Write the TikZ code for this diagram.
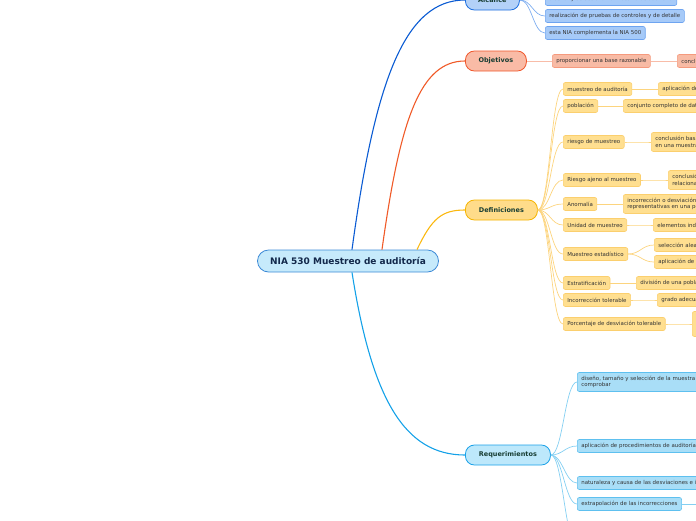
\documentclass[tikz,border=0pt]{standalone}
\usepackage{fontspec}
\setmainfont{DejaVu Sans}
\definecolor{ctext}{HTML}{13294B}
\definecolor{btext}{HTML}{173D33}
\definecolor{ltext}{HTML}{333333}
\definecolor{cfill}{HTML}{C6EAFB}
\definecolor{cdraw}{HTML}{3D8AD6}
\definecolor{aline}{HTML}{0A5BD3}
\definecolor{afill}{HTML}{B3D1F8}
\definecolor{adraw}{HTML}{1D6FE0}
\definecolor{alfill}{HTML}{A6CAF8}
\definecolor{aldraw}{HTML}{6EA4F0}
\definecolor{alline}{HTML}{7FAEF0}
\definecolor{oline}{HTML}{F05A28}
\definecolor{ofill}{HTML}{F9BBA6}
\definecolor{odraw}{HTML}{F0562B}
\definecolor{olfill}{HTML}{F8BBA5}
\definecolor{oldraw}{HTML}{F59A7E}
\definecolor{olline}{HTML}{F8BCA8}
\definecolor{dline}{HTML}{FBB80F}
\definecolor{dfill}{HTML}{FFDC8A}
\definecolor{ddraw}{HTML}{F5B400}
\definecolor{dlfill}{HTML}{FFDF90}
\definecolor{dldraw}{HTML}{FBCF6E}
\definecolor{dlline}{HTML}{FCD47E}
\definecolor{rline}{HTML}{14A1E8}
\definecolor{rfill}{HTML}{BDE8FB}
\definecolor{rdraw}{HTML}{1AA1E8}
\definecolor{rlfill}{HTML}{A9DEF7}
\definecolor{rldraw}{HTML}{5EC0EF}
\definecolor{rlline}{HTML}{84CFF2}
\tikzset{
  central/.style={draw=cdraw, fill=cfill, line width=0.8pt, rounded corners=11pt,
    minimum width=181pt, minimum height=22pt, inner sep=0pt, text=ctext,
    font=\fontsize{9}{10}\selectfont\bfseries},
  branch/.style={line width=0.8pt, rounded corners=9pt, minimum height=20pt,
    inner sep=0pt, anchor=west, text=btext, font=\fontsize{6.5}{7.5}\selectfont\bfseries},
  leaf/.style={line width=0.6pt, rounded corners=2pt, minimum height=13pt,
    inner xsep=4pt, inner ysep=0pt, anchor=west, align=left, text=ltext,
    font=\fontsize{5.45}{6.4}\selectfont},
  aleaf/.style={leaf, draw=aldraw, fill=alfill},
  oleaf/.style={leaf, draw=oldraw, fill=olfill},
  dleaf/.style={leaf, draw=dldraw, fill=dlfill},
  rleaf/.style={leaf, draw=rldraw, fill=rlfill},
  main/.style={line width=1.1pt},
  sub/.style={line width=0.7pt},
}
\begin{document}
\begin{tikzpicture}[x=1pt, y=-1pt]
\useasboundingbox (0,0) rectangle (696,520);
\clip (0,0) rectangle (696,520);

% central
\node[central] (c) at (348,261) {NIA 530 Muestreo de auditoría};

% branches
\node[branch, draw=adraw, fill=afill, minimum width=54pt] (alc) at (465,0) {Alcance};
\node[branch, draw=odraw, fill=ofill, minimum width=61pt] (obj) at (465,61) {Objetivos};
\node[branch, draw=ddraw, fill=dfill, minimum width=72pt] (def) at (465,210) {Definiciones};
\node[branch, draw=rdraw, fill=rfill, minimum width=85pt] (req) at (465,455) {Requerimientos};

\draw[main, aline] ([xshift=4pt]c.north) .. controls (375,80) and (405,0) .. (alc.west);
\draw[main, oline] ([xshift=34pt]c.north) .. controls (400,120) and (420,61) .. (obj.west);
\draw[main, dline] ([xshift=69pt]c.north) .. controls (432,218) and (442,210) .. (def.west);
\draw[main, rline] ([xshift=4pt]c.south) .. controls (372,400) and (405,455) .. (req.west);

% Alcance children
\node[aleaf] (a1) at (545,-1) {diseñar y seleccionar la muestra de auditoría};
\node[aleaf] (a2) at (545,16) {realización de pruebas de controles y de detalle};
\node[aleaf] (a3) at (545,33) {esta NIA complementa la NIA 500};
\coordinate (a0) at (545,-25);
\foreach \n in {a0,a1,a2,a3}{
  \draw[sub, alline] (alc.east) .. controls +(12,0) and +(-12,0) .. (\n.west);
}

% Objetivos
\node[oleaf] (o1) at (552,61) {proporcionar una base razonable};
\node[oleaf] (o2) at (677,61) {conclusiones razonables};
\draw[sub, olline] (obj.east) -- (o1.west);
\draw[sub, olline] (o1.east) -- (o2.west);

% Definiciones children
\node[dleaf] (d1) at (563,89) {muestreo de auditoría};
\node[dleaf] (d2) at (563,106) {población};
\node[dleaf] (d3) at (563,142) {riesgo de muestreo};
\node[dleaf] (d4) at (563,180) {Riesgo ajeno al muestreo};
\node[dleaf] (d5) at (563,204) {Anomalía};
\node[dleaf] (d6) at (563,225) {Unidad de muestreo};
\node[dleaf] (d7) at (563,254) {Muestreo estadístico};
\node[dleaf] (d8) at (563,283) {Estratificación};
\node[dleaf] (d9) at (563,300) {Incorrección tolerable};
\node[dleaf] (d10) at (563,324) {Porcentaje de desviación tolerable};
\foreach \n in {d1,d2,d3,d4,d5,d6,d7,d8,d9,d10}{
  \draw[sub, dlline] (def.east) .. controls +(12,0) and +(-12,0) .. (\n.west);
}

% Definiciones grandchildren
\node[dleaf] (g1) at (658,89) {aplicación de los procedimientos de auditoría};
\node[dleaf] (g2) at (623,106) {conjunto completo de datos};
\node[dleaf, minimum height=19pt] (g3) at (651,142) {conclusión basada\\en una muestra};
\node[dleaf, minimum height=19pt] (g4) at (668,180) {conclusión errónea\\relacionada};
\node[dleaf, minimum height=19pt] (g5) at (623,204) {incorrección o desviación que no son\\representativas en una población};
\node[dleaf] (g6) at (653,225) {elementos individuales};
\node[dleaf] (g7a) at (654,245) {selección aleatoria};
\node[dleaf] (g7b) at (654,262) {aplicación de la teoría};
\node[dleaf] (g8) at (636,283) {división de una población};
\node[dleaf] (g9) at (657,300) {grado adecuado};
\node[dleaf, minimum height=25pt, inner xsep=6pt] (g10) at (692,324) {porcentaje\\de desviación\\tolerable};
\foreach \a/\b in {d1/g1,d2/g2,d3/g3,d4/g4,d5/g5,d6/g6,d7/g7a,d7/g7b,d8/g8,d9/g9,d10/g10}{
  \draw[sub, dlline] (\a.east) .. controls +(12,0) and +(-12,0) .. (\b.west);
}

% Requerimientos children
\node[rleaf, minimum height=19pt] (r1) at (577,382) {diseño, tamaño y selección de la muestra de auditoría\\comprobar};
\node[rleaf] (r2) at (577,446) {aplicación de procedimientos de auditoría adecuados};
\node[rleaf] (r3) at (577,483) {naturaleza y causa de las desviaciones e incorrecciones};
\node[rleaf] (r4) at (577,504) {extrapolación de las incorrecciones};
\coordinate (r5) at (577,545);
\coordinate (r4x) at (720,504);
\foreach \n in {r1,r2,r3,r4,r5}{
  \draw[sub, rlline] (req.east) .. controls +(12,0) and +(-12,0) .. (\n.west);
}
\draw[sub, rlline] (r4.east) -- (r4x);
\end{tikzpicture}
\end{document}
